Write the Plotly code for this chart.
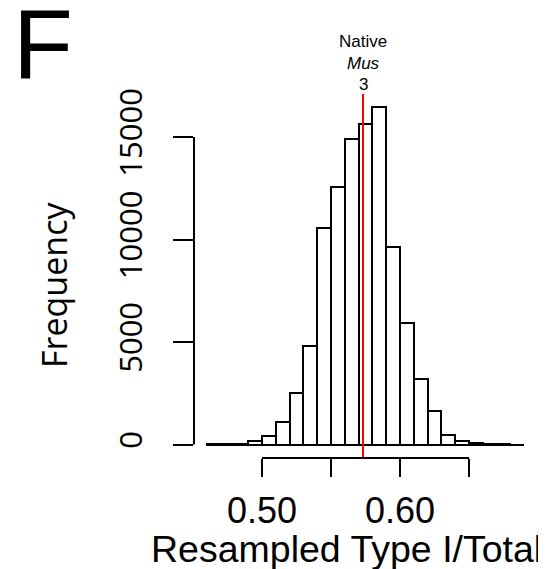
import plotly.graph_objects as go

# ---- data ----
bin_left = [0.46, 0.47, 0.48, 0.49, 0.50, 0.51, 0.52, 0.53, 0.54, 0.55, 0.56, 0.57,
            0.58, 0.59, 0.60, 0.61, 0.62, 0.63, 0.64, 0.65, 0.66, 0.67, 0.68]
counts = [2, 6, 30, 170, 440, 1120, 2510, 4815, 10540, 12565, 14900, 15650,
          16440, 9630, 5950, 3180, 1640, 470, 170, 60, 12, 3, 1]
bin_width = 0.01
native_value = 0.5732
native_label = ["Native", "<i>Mus</i>", "3"]
x_tick_vals = [0.50, 0.55, 0.60, 0.65]
x_tick_text = ["0.50", "", "0.60", ""]
y_tick_vals = [0, 5000, 10000, 15000]
y_tick_text = ["0", "5000", "10000", "15000"]
x_title = "Resampled Type I/Total"
y_title = "Frequency"
panel_label = "F"

# ---- layout geometry (page has an 8px body margin) ----
OFF = 8
W, H = 546 - OFF, 569 - OFF
ML, MR, MT, MB = 186, 9, 86, 111
PW, PH = W - ML - MR, H - MT - MB

def px_x(p):
    return (p - OFF - ML) / PW

def px_y(p):
    return (H - MB - (p - OFF)) / PH

lo = bin_left[0]
hi = bin_left[-1] + bin_width
xpad = 0.04 * (hi - lo)
ymax = max(counts)

centers = [b + bin_width / 2 for b in bin_left]

fig = go.Figure()
fig.add_trace(go.Bar(
    x=centers, y=counts, width=bin_width,
    marker=dict(color="white", line=dict(color="black", width=2)),
    showlegend=False, hoverinfo="x+y",
))

fig.add_shape(type="line", xref="x", yref="paper",
              x0=native_value, x1=native_value, y0=0, y1=1,
              line=dict(color="#FF0000", width=2), layer="above")
# R-style axis lines spanning the tick range only
fig.add_shape(type="line", xref="x", yref="paper",
              x0=x_tick_vals[0], x1=x_tick_vals[-1], y0=0, y1=0,
              line=dict(color="black", width=2))
fig.add_shape(type="line", xref="paper", yref="y",
              x0=0, x1=0, y0=y_tick_vals[0], y1=y_tick_vals[-1],
              line=dict(color="black", width=2))

ann = []
for i, t in enumerate(native_label):
    ann.append(dict(x=native_value, xref="x", y=px_y(41.5 + 21.7 * i), yref="paper",
                    text=t, showarrow=False, xanchor="center", yanchor="middle",
                    font=dict(family="Liberation Sans", size=17, color="black")))
ann.append(dict(x=px_x(346.5), xref="paper", y=px_y(549), yref="paper",
                text=x_title, showarrow=False, xanchor="center", yanchor="middle",
                font=dict(family="Liberation Sans", size=37.5, color="black")))
ann.append(dict(x=px_x(54), xref="paper", y=px_y(285), yref="paper",
                text=y_title, showarrow=False, xanchor="center", yanchor="middle",
                textangle=-90,
                font=dict(family="Open Sans", size=34, color="black")))
ann.append(dict(x=px_x(43), xref="paper", y=px_y(44), yref="paper",
                text=panel_label, showarrow=False, xanchor="center", yanchor="middle",
                font=dict(family="Liberation Sans", size=98, color="black")))

fig.update_layout(
    width=W, height=H,
    margin=dict(l=ML, r=MR, t=MT, b=MB, pad=0),
    paper_bgcolor="white", plot_bgcolor="white",
    bargap=0,
    annotations=ann,
    xaxis=dict(range=[lo - xpad, hi + xpad], showgrid=False, zeroline=False,
               showline=False, ticks="outside", ticklen=18, tickwidth=2,
               tickcolor="black", tickvals=x_tick_vals, ticktext=x_tick_text,
               ticklabelstandoff=3,
               tickfont=dict(family="Liberation Sans", size=36, color="black")),
    yaxis=dict(range=[-0.04 * ymax, 1.04 * ymax], showgrid=False, zeroline=False,
               showline=False, ticks="outside", ticklen=20, tickwidth=2,
               tickcolor="black", tickvals=y_tick_vals, ticktext=y_tick_text,
               tickangle=-90, ticklabelstandoff=19,
               tickfont=dict(family="Open Sans", size=31, color="black")),
)

fig.write_html("out.html")
